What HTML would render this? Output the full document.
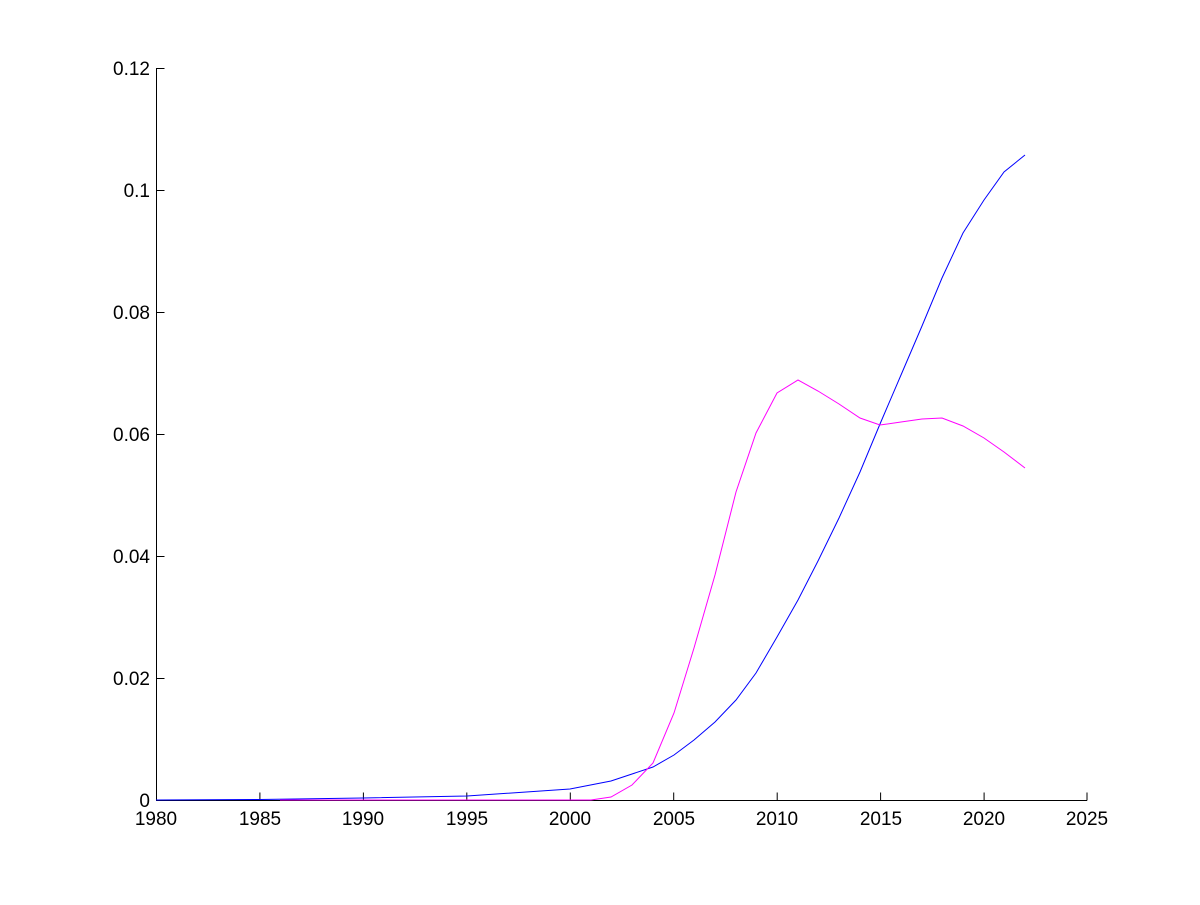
<!DOCTYPE html>
<html><head><style>body{margin:0;background:#fff}svg text{font-family:"Liberation Sans",sans-serif;font-size:19px}</style></head>
<body>
<svg width="1200" height="900" xmlns="http://www.w3.org/2000/svg">
<rect width="1200" height="900" fill="#fff"/>
<g stroke="#000" stroke-width="1" fill="none">
<line x1="156.5" y1="68" x2="156.5" y2="800.5"/>
<line x1="156" y1="800.5" x2="1087" y2="800.5"/>
<path d="M156.5 800.5v-8M259.9 800.5v-8M363.4 800.5v-8M466.8 800.5v-8M570.3 800.5v-8M673.7 800.5v-8M777.2 800.5v-8M880.6 800.5v-8M984.1 800.5v-8M1087 800.5v-8"/>
<path d="M156.5 68.5h8M156.5 190.5h8M156.5 312.5h8M156.5 434.5h8M156.5 556.5h8M156.5 678.5h8M156.5 800.5h8"/>
</g>
<g text-anchor="end">
<text x="150" y="75">0.12</text><text x="150" y="197">0.1</text><text x="150" y="319">0.08</text><text x="150" y="441">0.06</text><text x="150" y="563">0.04</text><text x="150" y="685">0.02</text><text x="150" y="807">0</text>
</g>
<g text-anchor="middle">
<text x="156" y="825">1980</text><text x="260" y="825">1985</text><text x="363" y="825">1990</text><text x="467" y="825">1995</text><text x="570" y="825">2000</text><text x="674" y="825">2005</text><text x="777" y="825">2010</text><text x="881" y="825">2015</text><text x="984" y="825">2020</text><text x="1087" y="825">2025</text>
</g>
<polyline fill="none" stroke="#0000ff" stroke-width="1" points="156,800 260,799.5 363,798 467,796 570,789 611,781 653,767 674,755 694,740 715,722 736,700 756,673 777,637 798,600 818,561 839,518 860,472 880,424 901,375 922,326 942,278 963,233 984,200 1004,172 1025,155"/>
<polyline fill="none" stroke="#ff00ff" stroke-width="1" points="280,800 570,800 591,800 611,797 632,785 653,763 674,713 694,648 715,575 736,492 756,433 777,393 798,380 818,391 839,404 860,418 880,425 901,422 922,419 942,418 963,426 984,438 1004,452 1025,468"/>
</svg>
</body></html>
